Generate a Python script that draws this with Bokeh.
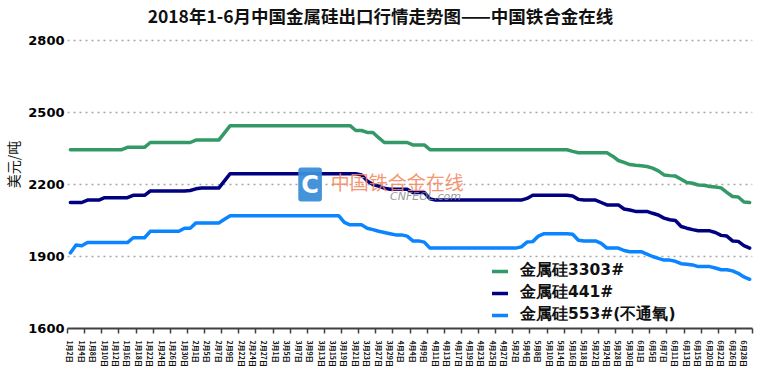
from bokeh.plotting import figure
from bokeh.models import FixedTicker, Legend, LegendItem, Label
from bokeh.embed import file_html
from bokeh.resources import INLINE

dates = [
    "1月2日", "1月3日", "1月4日", "1月5日", "1月8日", "1月9日", "1月10日", "1月11日", "1月12日", "1月15日",
    "1月16日", "1月17日", "1月18日", "1月19日", "1月22日", "1月23日", "1月24日", "1月25日", "1月26日", "1月29日",
    "1月30日", "1月31日", "2月1日", "2月2日", "2月5日", "2月6日", "2月7日", "2月8日", "2月9日", "2月12日",
    "2月22日", "2月23日", "2月24日", "2月26日", "2月27日", "2月28日", "3月1日", "3月2日", "3月5日", "3月6日",
    "3月7日", "3月8日", "3月9日", "3月12日", "3月13日", "3月14日", "3月15日", "3月16日", "3月19日", "3月20日",
    "3月21日", "3月22日", "3月23日", "3月26日", "3月27日", "3月28日", "3月29日", "3月30日", "4月2日", "4月3日",
    "4月4日", "4月8日", "4月9日", "4月10日", "4月11日", "4月12日", "4月13日", "4月16日", "4月17日", "4月18日",
    "4月19日", "4月20日", "4月23日", "4月24日", "4月25日", "4月26日", "4月27日", "4月28日", "5月2日", "5月3日",
    "5月4日", "5月7日", "5月8日", "5月9日", "5月10日", "5月11日", "5月14日", "5月15日", "5月16日", "5月17日",
    "5月18日", "5月21日", "5月22日", "5月23日", "5月24日", "5月25日", "5月28日", "5月29日", "5月30日", "5月31日",
    "6月1日", "6月4日", "6月5日", "6月6日", "6月7日", "6月8日", "6月11日", "6月12日", "6月13日", "6月14日",
    "6月15日", "6月19日", "6月20日", "6月21日", "6月22日", "6月25日", "6月26日", "6月27日", "6月28日", "6月29日",
]

si3303 = [
    2345, 2345, 2345, 2345, 2345, 2345, 2345, 2345, 2345, 2345,
    2355, 2355, 2355, 2355, 2375, 2375, 2375, 2375, 2375, 2375,
    2375, 2375, 2385, 2385, 2385, 2385, 2385, 2415, 2445, 2445,
    2445, 2445, 2445, 2445, 2445, 2445, 2445, 2445, 2445, 2445,
    2445, 2445, 2445, 2445, 2445, 2445, 2445, 2445, 2445, 2445,
    2425, 2425, 2417, 2417, 2395, 2375, 2375, 2375, 2375, 2375,
    2365, 2365, 2365, 2345, 2345, 2345, 2345, 2345, 2345, 2345,
    2345, 2345, 2345, 2345, 2345, 2345, 2345, 2345, 2345, 2345,
    2345, 2345, 2345, 2345, 2345, 2345, 2345, 2345, 2338, 2332,
    2332, 2332, 2332, 2332, 2332, 2318, 2300, 2292, 2283, 2280,
    2278, 2275, 2268, 2257, 2240, 2237, 2235, 2222, 2208, 2205,
    2198, 2197, 2192, 2190, 2186, 2167, 2150, 2148, 2127, 2125,
]

si441 = [
    2125, 2125, 2125, 2135, 2135, 2135, 2145, 2145, 2145, 2145,
    2145, 2155, 2155, 2155, 2173, 2173, 2173, 2173, 2173, 2173,
    2173, 2175, 2182, 2185, 2185, 2185, 2185, 2215, 2245, 2245,
    2245, 2245, 2245, 2245, 2245, 2245, 2245, 2245, 2245, 2245,
    2245, 2245, 2245, 2245, 2245, 2245, 2245, 2245, 2245, 2245,
    2245, 2240, 2215, 2200, 2193, 2185, 2180, 2180, 2180, 2180,
    2167, 2167, 2167, 2140, 2135, 2135, 2135, 2135, 2135, 2135,
    2135, 2135, 2135, 2135, 2135, 2135, 2135, 2135, 2135, 2135,
    2142, 2155, 2155, 2155, 2155, 2155, 2155, 2155, 2152, 2138,
    2135, 2135, 2135, 2125, 2115, 2115, 2115, 2098, 2094, 2088,
    2088, 2088, 2080, 2073, 2060, 2053, 2050, 2025, 2018, 2012,
    2007, 2007, 2007, 2000, 1988, 1985, 1965, 1963, 1945, 1935,
]

si553 = [
    1915, 1948, 1945, 1958, 1958, 1958, 1958, 1958, 1958, 1958,
    1958, 1978, 1978, 1978, 2005, 2005, 2005, 2005, 2005, 2005,
    2018, 2018, 2040, 2040, 2040, 2040, 2040, 2055, 2070, 2070,
    2070, 2070, 2070, 2070, 2070, 2070, 2070, 2070, 2070, 2070,
    2070, 2070, 2070, 2070, 2070, 2070, 2070, 2070, 2042, 2032,
    2032, 2032, 2018, 2012, 2005, 2000, 1995, 1990, 1990, 1985,
    1965, 1965, 1960, 1935, 1935, 1935, 1935, 1935, 1935, 1935,
    1935, 1935, 1935, 1935, 1935, 1935, 1935, 1935, 1935, 1940,
    1960, 1962, 1985, 1995, 1995, 1995, 1995, 1995, 1993, 1968,
    1965, 1965, 1965, 1955, 1935, 1935, 1935, 1925, 1920, 1920,
    1920, 1910, 1900, 1892, 1885, 1885, 1880, 1870, 1868, 1865,
    1858, 1858, 1858, 1852, 1845, 1845, 1840, 1830, 1815, 1805,
]

series_names = ["金属硅3303#", "金属硅441#", "金属硅553#(不通氧)"]
series_colors = ["#339966", "#000080", "#0A84FF"]
y_ticks = [1600, 1900, 2200, 2500, 2800]
title_text = "2018年1-6月中国金属硅出口行情走势图——中国铁合金在线"

idx = list(range(len(dates)))

# The frame reaches the top of the canvas so that the title (a label) lies inside it;
# 1600..2800 still spans the same 288 px as in the reference (40 px headroom above 2800).
Y_MIN, Y_TOP = 1600, 2800
head_room = (Y_TOP - Y_MIN) * 40 / 288

p = figure(width=760, height=371, output_backend="svg", toolbar_location=None,
           x_range=(-0.5, len(dates) - 0.5), y_range=(Y_MIN, Y_TOP + head_room),
           min_border_left=66, min_border_right=8, min_border_top=0, min_border_bottom=43)
p.outline_line_color = None
p.background_fill_color = "white"

renderers = []
for vals, col in zip([si3303, si441, si553], series_colors):
    r = p.line(idx, vals, line_color=col, line_width=3.5, line_join="round", line_cap="round")
    renderers.append(r)

# axes
p.yaxis.ticker = FixedTicker(ticks=y_ticks)
p.yaxis.axis_line_color = None
p.yaxis.major_tick_line_color = None
p.yaxis.minor_tick_line_color = None
p.yaxis.major_tick_out = 0
p.yaxis.major_tick_in = 0
p.yaxis.major_label_standoff = 3
p.yaxis.major_label_text_font = "DejaVu Sans"
p.yaxis.major_label_text_font_style = "bold"
p.yaxis.major_label_text_font_size = "13px"
p.yaxis.major_label_text_color = "black"
p.yaxis.axis_label = "美元/吨"
p.yaxis.axis_label_text_font = "Noto Sans CJK SC"
p.yaxis.axis_label_text_font_style = "normal"
p.yaxis.axis_label_text_font_size = "14px"
p.yaxis.axis_label_standoff = 2
p.yaxis.axis_label_text_color = "#111111"

label_pos = list(range(0, len(dates), 2))
tick_pos = [k * 3 - 0.5 for k in range(len(dates) // 3 + 1)]
p.xaxis.ticker = FixedTicker(ticks=label_pos, minor_ticks=tick_pos)
p.xaxis.major_label_overrides = {i: dates[i] for i in label_pos}
p.xaxis.major_label_orientation = "vertical"
p.xaxis.major_tick_line_color = None
p.xaxis.major_tick_out = 0
p.xaxis.major_tick_in = 0
p.xaxis.minor_tick_line_color = "#404040"
p.xaxis.minor_tick_line_width = 1.5
p.xaxis.minor_tick_out = 5
p.xaxis.minor_tick_in = 0
p.xaxis.axis_line_color = "#404040"
p.xaxis.axis_line_width = 2
p.xaxis.major_label_standoff = 7
p.xaxis.major_label_text_font = "Noto Sans CJK SC"
p.xaxis.major_label_text_font_style = "bold"
p.xaxis.major_label_text_font_size = "7px"
p.xaxis.major_label_text_color = "#111111"

p.xgrid.visible = False
p.ygrid.grid_line_color = "#A6A6A6"
p.ygrid.grid_line_dash = "2 4"
p.ygrid.grid_line_width = 1.3

# legend
legend = Legend(items=[LegendItem(label=n, renderers=[r]) for n, r in zip(series_names, renderers)],
                location=(425, 3), orientation="vertical")
legend.label_text_font = "DejaVu Sans"
legend.label_text_font_style = "bold"
legend.label_text_font_size = "15.5px"
legend.label_text_color = "#111111"
legend.background_fill_alpha = 0
legend.border_line_color = None
legend.glyph_width = 16
legend.glyph_height = 18
legend.label_height = 18
legend.spacing = 1
legend.padding = 6
legend.label_standoff = 12
legend.margin = 0
p.add_layout(legend)

# watermark
p.add_layout(Label(x=42, y=2200, text="C", text_color="white", text_font="DejaVu Sans",
                   text_font_style="bold", text_font_size="24px", text_align="center",
                   text_baseline="middle", background_fill_color="#3B8ED8",
                   background_fill_alpha=0.95, padding=3, border_radius=3))
p.add_layout(Label(x=45.6, y=2213, text="中国铁合金在线", text_color="#F4895F", text_alpha=0.9,
                   text_font="Noto Sans CJK SC", text_font_size="19px", text_align="left",
                   text_baseline="middle"))
p.add_layout(Label(x=56, y=2152, text="CNFEOL.com", text_color="#8C8C8C", text_alpha=0.9,
                   text_font="DejaVu Sans", text_font_style="italic", text_font_size="11px",
                   text_align="left", text_baseline="middle"))

# title (screen units, relative to the frame's bottom-left corner)
p.add_layout(Label(x=313, y=313, x_units="screen", y_units="screen", text=title_text,
                   text_font="Noto Sans CJK SC", text_font_style="bold", text_font_size="17.5px",
                   text_color="#111111", text_align="center", text_baseline="middle"))

open("out.html", "w").write(file_html(p, INLINE))
